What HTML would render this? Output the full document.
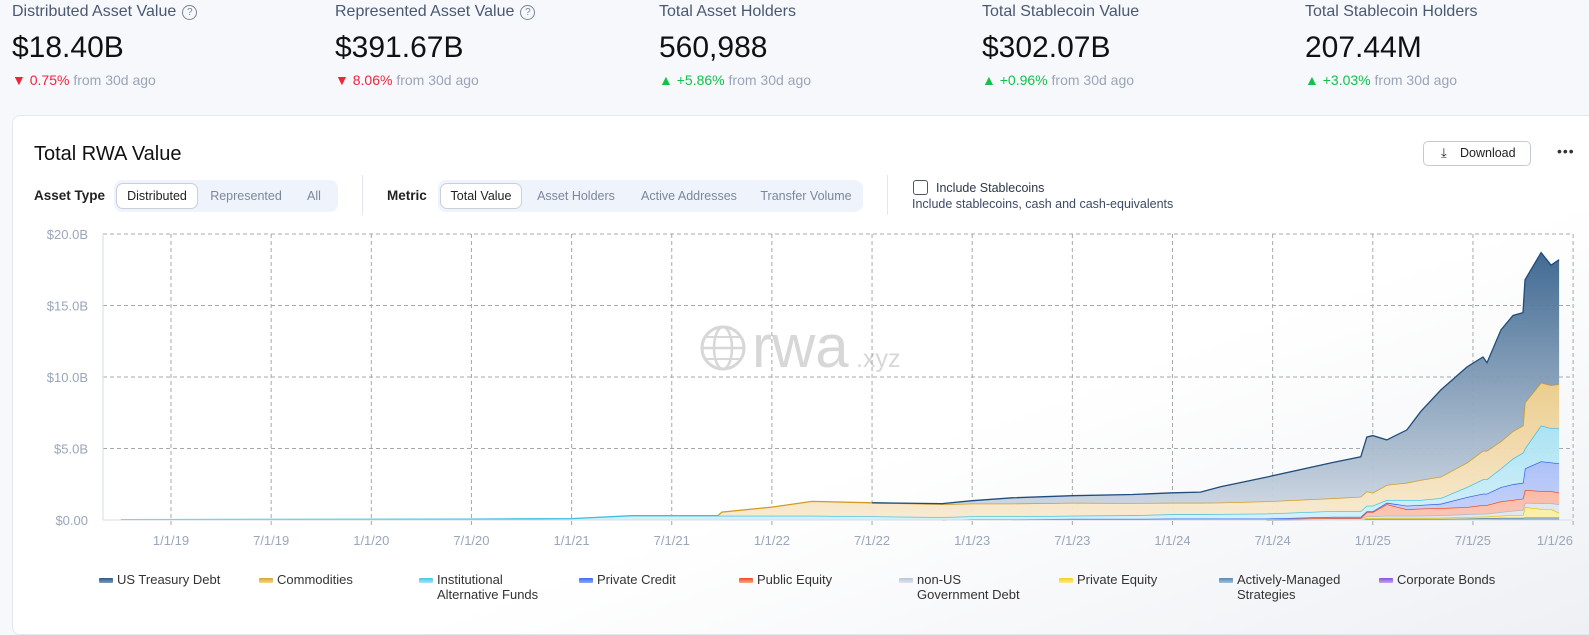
<!DOCTYPE html>
<html><head><meta charset="utf-8">
<style>
*{box-sizing:border-box;margin:0;padding:0}
body{width:1589px;height:613px;overflow:hidden;background:#f6f8fc;font-family:"Liberation Sans",sans-serif;position:relative;color:#111}
.kpi{position:absolute;top:0}
.kpi .lbl{position:absolute;top:3px;left:0;font-size:16px;color:#4a5872;white-space:nowrap}
.kpi .q{display:inline-block;width:15px;height:15px;border:1.3px solid #7a8599;border-radius:50%;font-size:10px;text-align:center;line-height:13px;color:#7a8599;margin-left:6px;vertical-align:1px}
.kpi .val{position:absolute;top:31px;left:0;font-size:30px;color:#111;white-space:nowrap}
.kpi .chg{position:absolute;top:72px;left:0;font-size:14px;color:#9aa5b8;white-space:nowrap}
.dn{color:#f0243a}.up{color:#12c24b}
.card{position:absolute;left:12px;top:115px;width:1590px;height:520px;background:linear-gradient(160deg,#fff 0%,#fff 60%,#eef0f4 100%);border:1px solid #e3e7ee;border-radius:8px}
.abs{position:absolute;white-space:nowrap}
.pillg{position:absolute;height:32px;background:#eff3fb;border-radius:8px}
.pill{position:absolute;top:3px;height:26px;font-size:12.5px;color:#7d879a;line-height:26px;text-align:center}
.pill.on{background:#fff;border:1px solid #c9d0dc;border-radius:7px;color:#222;line-height:24px}
.leg{position:absolute;top:572px;font-size:13px;color:#333;line-height:15px}
.leg i{position:absolute;left:0;top:6px;width:14px;height:5px;border-radius:1px}
.leg span{position:absolute;left:18px;top:0;white-space:nowrap}
</style></head><body>
<div class="kpi" style="left:12px"><div class="lbl">Distributed Asset Value<span class="q">?</span></div><div class="val">$18.40B</div><div class="chg"><span class="dn">▼ 0.75%</span> from 30d ago</div></div>
<div class="kpi" style="left:335px"><div class="lbl">Represented Asset Value<span class="q">?</span></div><div class="val">$391.67B</div><div class="chg"><span class="dn">▼ 8.06%</span> from 30d ago</div></div>
<div class="kpi" style="left:659px"><div class="lbl">Total Asset Holders</div><div class="val">560,988</div><div class="chg"><span class="up">▲ +5.86%</span> from 30d ago</div></div>
<div class="kpi" style="left:982px"><div class="lbl">Total Stablecoin Value</div><div class="val">$302.07B</div><div class="chg"><span class="up">▲ +0.96%</span> from 30d ago</div></div>
<div class="kpi" style="left:1305px"><div class="lbl">Total Stablecoin Holders</div><div class="val">207.44M</div><div class="chg"><span class="up">▲ +3.03%</span> from 30d ago</div></div>

<div class="card"></div>
<div class="abs" style="left:34px;top:143px;font-size:20px;color:#111">Total RWA Value</div>
<div class="abs" style="left:1423px;top:141px;width:108px;height:25px;border:1px solid #c4cad5;border-radius:5px;background:#fff;font-size:12.5px;line-height:23px;padding-left:36px;color:#222"><span style="position:absolute;left:17px;top:-1px;font-size:13px">⤓</span>Download</div>
<div class="abs" style="left:1557px;top:143px;font-size:14px;letter-spacing:1px;color:#333">•••</div>

<div class="abs" style="left:34px;top:188px;font-size:13.5px;font-weight:bold;color:#222">Asset Type</div>
<div class="pillg" style="left:114px;top:180px;width:224px">
<div class="pill on" style="left:2px;width:82px">Distributed</div>
<div class="pill" style="left:88px;width:88px">Represented</div>
<div class="pill" style="left:180px;width:40px">All</div></div>
<div class="abs" style="left:362px;top:175px;width:1px;height:40px;background:#e3e6ec"></div>
<div class="abs" style="left:387px;top:188px;font-size:13.5px;font-weight:bold;color:#222">Metric</div>
<div class="pillg" style="left:438px;top:180px;width:425px">
<div class="pill on" style="left:2px;width:82px">Total Value</div>
<div class="pill" style="left:90px;width:96px">Asset Holders</div>
<div class="pill" style="left:190px;width:122px">Active Addresses</div>
<div class="pill" style="left:314px;width:108px">Transfer Volume</div></div>
<div class="abs" style="left:887px;top:175px;width:1px;height:40px;background:#e3e6ec"></div>
<div class="abs" style="left:913px;top:180px;width:15px;height:15px;border:1.3px solid #4a5568;border-radius:3px"></div>
<div class="abs" style="left:936px;top:181px;font-size:12.5px;color:#2d3748">Include Stablecoins</div>
<div class="abs" style="left:912px;top:197px;font-size:12.5px;color:#3c4a66">Include stablecoins, cash and cash-equivalents</div>

<svg id="chart" width="1589" height="613" style="position:absolute;left:0;top:0"></svg>

<div class="leg" style="left:99px"><i style="background:linear-gradient(#2d5a87,#7f9bb8)"></i><span>US Treasury Debt</span></div>
<div class="leg" style="left:259px"><i style="background:linear-gradient(#d9a634,#f0d68e)"></i><span>Commodities</span></div>
<div class="leg" style="left:419px"><i style="background:linear-gradient(#4cc4e6,#a8e4f4)"></i><span>Institutional<br>Alternative Funds</span></div>
<div class="leg" style="left:579px"><i style="background:linear-gradient(#3e6df0,#8fa8f6)"></i><span>Private Credit</span></div>
<div class="leg" style="left:739px"><i style="background:linear-gradient(#f04a1e,#f8a88c)"></i><span>Public Equity</span></div>
<div class="leg" style="left:899px"><i style="background:linear-gradient(#b8c6d8,#dde5ee)"></i><span>non-US<br>Government Debt</span></div>
<div class="leg" style="left:1059px"><i style="background:linear-gradient(#f5d21a,#fae98a)"></i><span>Private Equity</span></div>
<div class="leg" style="left:1219px"><i style="background:linear-gradient(#5b86b0,#a6c0d8)"></i><span>Actively-Managed<br>Strategies</span></div>
<div class="leg" style="left:1379px"><i style="background:linear-gradient(#8a4fe0,#c3a3f0)"></i><span>Corporate Bonds</span></div>

<script>
const dates=[2018.75,2019.5,2020.0,2020.5,2021.0,2021.3,2021.73,2021.75,2022.0,2022.2,2022.5,2022.85,2023.0,2023.2,2023.5,2023.8,2024.0,2024.14,2024.24,2024.47,2024.8,2024.94,2024.97,2025.0,2025.07,2025.17,2025.24,2025.34,2025.47,2025.55,2025.57,2025.64,2025.70,2025.75,2025.76,2025.84,2025.89,2025.93];
const corporateBonds=[0,0,0,0,0,0,0,0,0,0,0,0,0,0,0,0,0,0,0,0,0.01,0.01,0.03,0.03,0.03,0.03,0.03,0.03,0.04,0.04,0.04,0.05,0.05,0.05,0.05,0.05,0.05,0.05];
const activelyManaged=[0,0,0,0,0,0,0,0,0,0,0,0,0,0,0,0,0,0,0,0,0.01,0.01,0.05,0.05,0.05,0.05,0.05,0.05,0.06,0.08,0.08,0.1,0.1,0.1,0.12,0.12,0.12,0.12];
const privateEquity=[0,0,0,0,0,0,0,0,0,0,0,0,0,0,0,0,0,0,0,0,0.02,0.02,0.05,0.05,0.07,0.07,0.07,0.08,0.1,0.12,0.12,0.15,0.2,0.2,0.73,0.6,0.6,0.33];
const nonUsGovDebt=[0,0,0,0,0,0,0,0,0,0,0,0,0,0,0.03,0.03,0.05,0.05,0.05,0.05,0.07,0.07,0.12,0.12,0.15,0.15,0.15,0.17,0.2,0.2,0.2,0.25,0.3,0.35,0.3,0.4,0.4,0.6];
const publicEquity=[0,0,0,0,0,0,0,0,0,0,0,0,0,0,0,0,0,0,0,0,0.03,0.03,0.3,0.3,0.8,0.45,0.5,0.5,0.5,0.6,0.6,0.75,0.75,0.8,0.9,0.85,0.85,0.8];
const privateCredit=[0,0,0,0,0,0,0,0,0,0,0,0,0.05,0.05,0.05,0.05,0.05,0.05,0.05,0.05,0.08,0.08,0.05,0.05,0.1,0.25,0.25,0.3,0.7,0.8,0.8,1.0,1.1,1.1,1.5,2.08,2.0,2.05];
const institutionalFunds=[0.03,0.04,0.05,0.06,0.1,0.3,0.3,0.3,0.3,0.3,0.25,0.2,0.2,0.2,0.22,0.25,0.3,0.3,0.32,0.35,0.4,0.4,0.4,0.4,0.2,0.4,0.35,0.4,0.7,1.0,1.0,1.3,1.8,2.1,1.4,2.5,2.4,2.45];
const commodities=[0,0,0,0,0,0,0,0.25,0.6,1.0,0.95,0.9,0.9,0.9,0.9,0.85,0.8,0.8,0.8,0.85,0.9,1.0,1.0,0.9,1.05,1.2,1.4,1.5,1.7,2.0,2.0,1.9,1.9,1.9,3.2,3.0,3.0,3.1];
const usTreasury=[0,0,0,0,0,0,0,0,0,0,0,0.05,0.2,0.4,0.5,0.6,0.7,0.75,1.1,1.7,2.5,2.8,3.8,4.0,3.15,3.7,4.8,6.07,6.7,6.56,6.16,7.8,8.1,7.9,8.6,9.1,8.4,8.7];
const yTicks=[0,5,10,15,20];
const yTickLabels=["$0.00","$5.0B","$10.0B","$15.0B","$20.0B"];
const xTicks=[2019,2019.5,2020,2020.5,2021,2021.5,2022,2022.5,2023,2023.5,2024,2024.5,2025,2025.5,2026];
const xTickLabels=["1/1/19","7/1/19","1/1/20","7/1/20","1/1/21","7/1/21","1/1/22","7/1/22","1/1/23","7/1/23","1/1/24","7/1/24","1/1/25","7/1/25","1/1/26"];

const svg=document.getElementById('chart');
const NS='http://www.w3.org/2000/svg';
const X0=103,X1=1573,Y0=520,Y1=234;
const xs=t=>171+(t-2019)*200.3;
const ys=v=>Y0-(v/20)*(Y0-Y1);
function mk(tag,attrs,parent){const e=document.createElementNS(NS,tag);for(const k in attrs)e.setAttribute(k,attrs[k]);(parent||svg).appendChild(e);return e;}

const defs=mk('defs',{});
const series=[
 {n:'corporate-bonds',d:corporateBonds,c1:'#8a4fe0',c2:'#c9b0f2',s:'#7a3fd6'},
 {n:'actively-managed-strategies',d:activelyManaged,c1:'#5b86b0',c2:'#b2c8dc',s:'#4a75a0'},
 {n:'private-equity',d:privateEquity,c1:'#f5d21a',c2:'#fbf0a8',s:'#e8c200'},
 {n:'non-us-government-debt',d:nonUsGovDebt,c1:'#b4c3d6',c2:'#e2e8f0',s:'#a8b8cc'},
 {n:'public-equity',d:publicEquity,c1:'#f04a1e',c2:'#fbc4b2',s:'#ee4418'},
 {n:'private-credit',d:privateCredit,c1:'#3e6df0',c2:'#c5d3fa',s:'#2f5ee8'},
 {n:'institutional-alternative-funds',d:institutionalFunds,c1:'#4cc4e6',c2:'#d3f0f9',s:'#3cbde2'},
 {n:'commodities',d:commodities,c1:'#dca93a',c2:'#f8ead0',s:'#d49a22'},
 {n:'us-treasury-debt',d:usTreasury,c1:'#2d5a87',c2:'#d2dbe5',s:'#1f4c7c'}
];
series.forEach((s,i)=>{const g=mk('linearGradient',{id:'g'+i,gradientUnits:'userSpaceOnUse',x1:0,y1:Y1,x2:0,y2:Y0},defs);
 mk('stop',{offset:0,'stop-color':s.c1},g);mk('stop',{offset:1,'stop-color':s.c2},g);});

yTicks.forEach((v,i)=>{
 const l=mk('line',{x1:X0,x2:X1,y1:ys(v),y2:ys(v),stroke:'#a8a8a8','stroke-dasharray':'4,3','stroke-width':1});
 
 
 const t=mk('text',{x:88,y:ys(v)+5,'text-anchor':'end','font-size':13,fill:'#9aa6bb','font-family':'Liberation Sans'});
 t.textContent=yTickLabels[i];
 
 
});
xTicks.forEach((v,i)=>{
 const l=mk('line',{x1:xs(v),x2:xs(v),y1:Y1,y2:Y0+8,stroke:'#a8a8a8','stroke-dasharray':'4,3','stroke-width':1});
 
 
 const last=i===xTicks.length-1;
 const t=mk('text',{x:last?X1:xs(v),y:545,'text-anchor':last?'end':'middle','font-size':13,fill:'#9aa6bb','font-family':'Liberation Sans'});
 t.textContent=xTickLabels[i];
 
 
});
mk('line',{x1:X0,x2:X0,y1:Y1,y2:Y0,stroke:'#d5dce8'});

const wm=mk('g',{opacity:0.33});


mk('circle',{cx:723,cy:348,r:21,fill:'none',stroke:'#888','stroke-width':3},wm);
mk('ellipse',{cx:723,cy:348,rx:9,ry:21,fill:'none',stroke:'#888','stroke-width':2.5},wm);
mk('line',{x1:702,x2:744,y1:348,y2:348,stroke:'#888','stroke-width':2.5},wm);
mk('line',{x1:705,x2:741,y1:337,y2:337,stroke:'#888','stroke-width':2},wm);
mk('line',{x1:705,x2:741,y1:359,y2:359,stroke:'#888','stroke-width':2},wm);
const wt=mk('text',{x:752,y:367,'font-size':60,fill:'#888','font-family':'Liberation Sans'},wm);wt.textContent='rwa';
const wt2=mk('text',{x:856,y:367,'font-size':25,fill:'#888','font-family':'Liberation Sans'},wm);wt2.textContent='.xyz';

let base=dates.map(()=>0);
series.forEach((s,i)=>{
 const top=base.map((b,k)=>b+s.d[k]);
 let d='M'+dates.map((t,k)=>xs(t).toFixed(1)+','+ys(top[k]).toFixed(1)).join('L');
 d+='L'+dates.map((t,k)=>k).reverse().map(k=>xs(dates[k]).toFixed(1)+','+ys(base[k]).toFixed(1)).join('L')+'Z';
 const a=mk('path',{d:d,fill:'url(#g'+i+')',opacity:0.95});
 
 
 let ld='',pen=false;
 for(let k=0;k<dates.length;k++){
  const active=s.d[k]>0||(k+1<dates.length&&s.d[k+1]>0);
  const pt=xs(dates[k]).toFixed(1)+','+ys(top[k]).toFixed(1);
  if(active){ld+=(pen?'L':'M')+pt;pen=true;}
  else if(pen){ld+='L'+pt;pen=false;}
 }
 if(ld){
 const ln=mk('path',{d:ld,fill:'none',stroke:s.s,'stroke-width':1.3});
 
 
 }
 base=top;
});
mk('line',{x1:X0,x2:X1,y1:Y0,y2:Y0,stroke:'#d5dce8'});
</script>
</body></html>
